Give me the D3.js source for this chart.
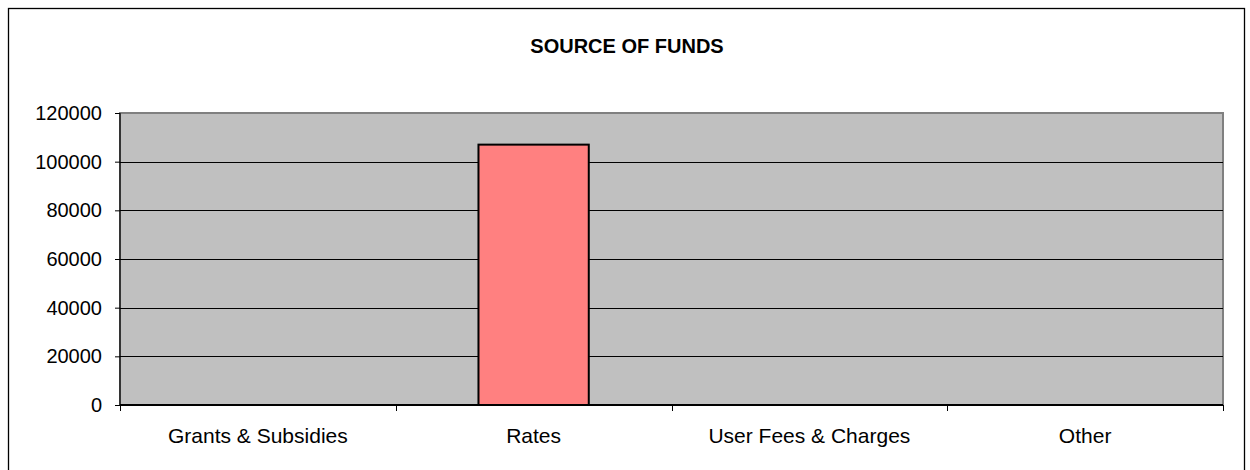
<!DOCTYPE html>
<html>
<head>
<meta charset="utf-8">
<script src="https://cdn.jsdelivr.net/npm/d3@7"></script>
<style>
  html, body { margin: 0; padding: 0; background: #fff; }
  svg { display: block; font-family: Arial, "Liberation Sans", sans-serif; }
</style>
</head>
<body>
<svg id="chart" width="1250" height="470"></svg>
<script>
// Funding sources and amounts
const categories = ["Grants & Subsidies", "Rates", "User Fees & Charges", "Other"];
const values = [0, 107000, 0, 0];
const yTicks = [0, 20000, 40000, 60000, 80000, 100000, 120000];
const chartTitle = "SOURCE OF FUNDS";

const svg = d3.select("#chart");
const plot = { left: 120, right: 1223, top: 113, bottom: 405 };
const FONT = "Arial, 'Liberation Sans', sans-serif";

// Outer chart frame
svg.append("rect")
  .attr("x", 8.5).attr("y", 8.5)
  .attr("width", 1236).attr("height", 470)
  .attr("fill", "#fff").attr("stroke", "#000").attr("stroke-width", 1.3);

svg.append("text")
  .attr("x", 627).attr("y", 53)
  .attr("text-anchor", "middle")
  .attr("font-size", 20).attr("font-weight", "bold")
  .text(chartTitle);

const x = d3.scaleBand()
  .domain(categories)
  .range([plot.left, plot.right])
  .paddingInner(0.6).paddingOuter(0.3);
const band = d3.scaleBand().domain(categories).range([plot.left, plot.right]);

const y = d3.scaleLinear().domain([0, 120000]).range([plot.bottom, plot.top]);

// Plot area background
svg.append("rect")
  .attr("x", plot.left).attr("y", plot.top)
  .attr("width", plot.right - plot.left).attr("height", plot.bottom - plot.top)
  .attr("fill", "#c0c0c0").attr("stroke", "#808080").attr("stroke-width", 2);

// Gridlines
svg.append("g")
  .selectAll("line")
  .data(yTicks.filter(d => d > 0 && d < 120000))
  .join("line")
  .attr("x1", plot.left).attr("x2", plot.right)
  .attr("y1", d => Math.round(y(d)) + 0.5).attr("y2", d => Math.round(y(d)) + 0.5)
  .attr("stroke", "#000").attr("stroke-width", 1);

// Bars
svg.append("g")
  .selectAll("rect")
  .data(categories.map((c, i) => ({ c, v: values[i] })).filter(d => d.v > 0))
  .join("rect")
  .attr("x", d => x(d.c))
  .attr("y", d => y(d.v))
  .attr("width", x.bandwidth())
  .attr("height", d => y(0) - y(d.v))
  .attr("fill", "#ff8080").attr("stroke", "#000").attr("stroke-width", 2);

// Y axis
const yAxis = d3.axisLeft(y).tickValues(yTicks).tickSize(5).tickPadding(13).tickFormat(d3.format("d"));
const gy = svg.append("g").attr("transform", `translate(${plot.left},0)`).call(yAxis);
gy.select(".domain").attr("stroke", "#000").attr("stroke-width", 1.2).attr("d", `M0,${plot.top}V${plot.bottom}`);
gy.selectAll(".tick line").attr("stroke", "#000");
gy.selectAll(".tick text").attr("font-size", 20).attr("fill", "#000").attr("font-family", FONT);

// X axis
const gx = svg.append("g").attr("transform", `translate(0,${plot.bottom})`);
gx.append("line")
  .attr("x1", plot.left).attr("x2", plot.right)
  .attr("y1", 0).attr("y2", 0)
  .attr("stroke", "#000").attr("stroke-width", 2);
const bounds = categories.map(c => band(c)).concat([plot.right]);
gx.selectAll("line.tick")
  .data(bounds)
  .join("line").attr("class", "tick")
  .attr("x1", d => Math.round(d) + 0.5).attr("x2", d => Math.round(d) + 0.5)
  .attr("y1", 0).attr("y2", 6)
  .attr("stroke", "#000");
gx.selectAll("text")
  .data(categories)
  .join("text")
  .attr("x", d => band(d) + band.bandwidth() / 2)
  .attr("y", 38)
  .attr("text-anchor", "middle")
  .attr("font-size", 21)
  .text(d => d);
</script>
</body>
</html>
